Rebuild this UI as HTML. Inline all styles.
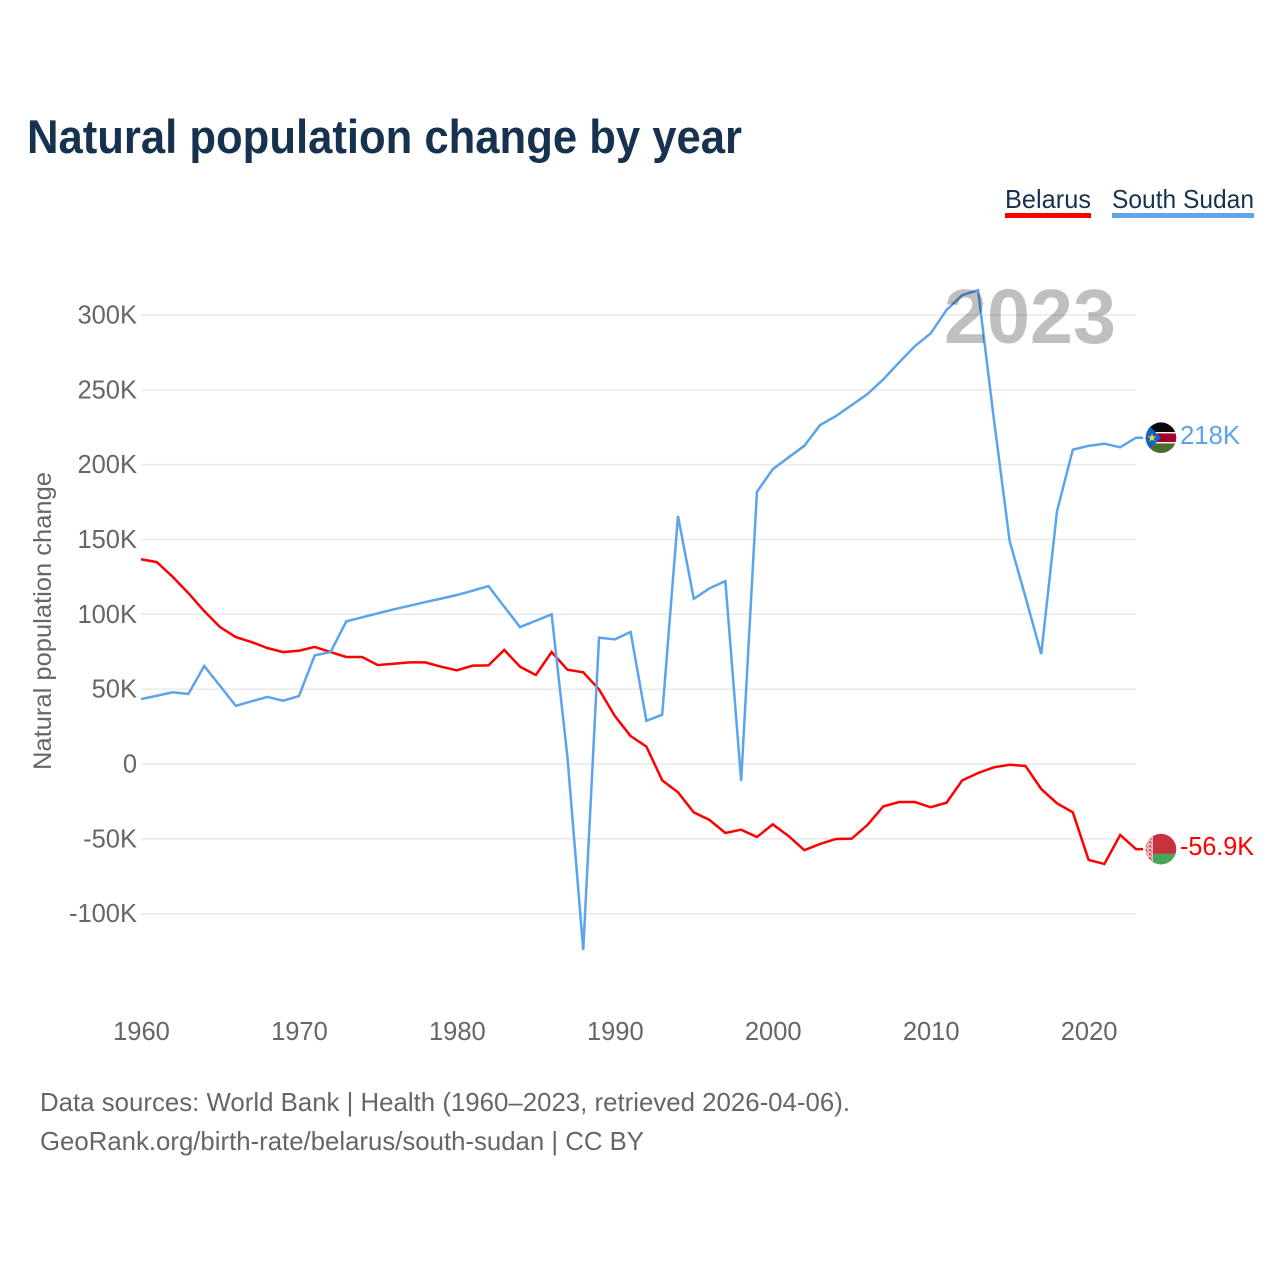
<!DOCTYPE html>
<html lang="en">
<head>
<meta charset="utf-8">
<title>Natural population change by year</title>
<style>
  html, body { margin: 0; padding: 0; background: #fff; }
  svg { display: block; font-family: "Liberation Sans", sans-serif; }
  .tick { font-size: 25.5px; fill: #666; }
</style>
</head>
<body>
<svg id="chart" xmlns="http://www.w3.org/2000/svg" width="1280" height="1280" viewBox="0 0 1280 1280">
  <defs>
    <clipPath id="flag-clip"><circle cx="0" cy="0" r="15.3"></circle></clipPath>
    <pattern id="hoist-pattern" width="4" height="4" patternUnits="userSpaceOnUse">
      <rect width="4" height="4" fill="#eebcc1"></rect>
      <rect x="0" y="0" width="2" height="2" fill="#c8313e" opacity="0.85"></rect>
      <rect x="2" y="2" width="1" height="1" fill="#c8313e" opacity="0.7"></rect>
    </pattern>
  </defs>
  <rect width="1280" height="1280" fill="#fff"></rect>

  <text x="27" y="153" font-size="47" font-weight="700" fill="#17324f" textLength="715" lengthAdjust="spacingAndGlyphs">Natural population change by year</text>

  <g>
    <g>
      <text x="1005" y="208" font-size="26" fill="#17324f" textLength="86" lengthAdjust="spacingAndGlyphs">Belarus</text>
      <rect x="1005" y="213" width="86" height="5" fill="#ff0000"></rect>
    </g>
    <g>
      <text x="1112" y="208" font-size="26" fill="#17324f" textLength="142" lengthAdjust="spacingAndGlyphs">South Sudan</text>
      <rect x="1112" y="213" width="142" height="5" fill="#62a6ea"></rect>
    </g>
  </g>

  <g id="grid"></g>
  <g id="y-ticks"></g>
  <g id="x-ticks"></g>
  <text transform="translate(51,621) rotate(-90)" text-anchor="middle" font-size="25" fill="#666" textLength="298" lengthAdjust="spacingAndGlyphs">Natural population change</text>
  <g id="series"></g>

  <text x="1030" y="343" text-anchor="middle" font-size="77" font-weight="700" fill="#000" fill-opacity="0.25" textLength="172" lengthAdjust="spacingAndGlyphs">2023</text>

  <g id="flag-south-sudan">
    <g clip-path="url(#flag-clip)">
      <rect x="-16" y="-16" width="32" height="32" fill="#fff"></rect>
      <rect x="-16" y="-16" width="32" height="10.3" fill="#0a0a0a"></rect>
      <rect x="-16" y="-4.3" width="32" height="8.6" fill="#a6002c"></rect>
      <rect x="-16" y="5.7" width="32" height="10.3" fill="#4a6f2c"></rect>
      <polygon points="-16,-16 0,0 -16,16" fill="#1366bd"></polygon>
      <polygon points="-9,-4 -7.8,-1.2 -4.8,-1.2 -7.2,0.7 -6.4,3.6 -9,2 -11.6,3.6 -10.8,0.7 -13.2,-1.2 -10.2,-1.2" fill="#f6d33c"></polygon>
    </g>
  </g>
  <g id="flag-belarus">
    <g clip-path="url(#flag-clip)">
      <rect x="-16" y="-16" width="32" height="21" fill="#c8313e"></rect>
      <rect x="-16" y="4.5" width="32" height="12" fill="#4aa657"></rect>
      <rect x="-16" y="-16" width="8" height="32" fill="url(#hoist-pattern)"></rect>
    </g>
  </g>

  <g id="end-labels"></g>

  <text x="40" y="1111" font-size="26" fill="#666" textLength="810" lengthAdjust="spacingAndGlyphs">Data sources: World Bank | Health (1960–2023, retrieved 2026-04-06).</text>
  <text x="40" y="1150" font-size="26" fill="#666" textLength="604" lengthAdjust="spacingAndGlyphs">GeoRank.org/birth-rate/belarus/south-sudan | CC BY</text>
</svg>

<script>
// Chart data (population change, thousands)
const years = [1960,1961,1962,1963,1964,1965,1966,1967,1968,1969,1970,1971,1972,1973,1974,1975,1976,1977,1978,1979,1980,1981,1982,1983,1984,1985,1986,1987,1988,1989,1990,1991,1992,1993,1994,1995,1996,1997,1998,1999,2000,2001,2002,2003,2004,2005,2006,2007,2008,2009,2010,2011,2012,2013,2014,2015,2016,2017,2018,2019,2020,2021,2022,2023];
const belarusValues = [136.8,134.9,125.1,114.2,102.2,91.5,84.8,81.5,77.5,74.8,75.7,78.2,74.8,71.5,71.5,66.1,67.0,67.9,67.9,65.0,62.6,65.7,65.9,76.2,65.0,59.5,74.8,63.0,61.3,49.9,32.1,18.7,11.6,-10.9,-18.9,-32.3,-37.4,-46.1,-43.9,-48.8,-40.3,-48.1,-57.6,-53.4,-50.1,-49.9,-40.7,-28.3,-25.4,-25.4,-28.9,-25.9,-10.9,-6.0,-2.2,-0.5,-1.3,-16.7,-26.3,-32.3,-64.1,-66.8,-47.4,-56.9];
const southSudanValues = [43.4,45.6,47.9,46.8,65.5,52.3,38.9,41.9,44.8,42.3,45.4,72.6,74.8,95.3,98.0,100.7,103.3,105.7,108.2,110.5,112.9,115.8,118.9,105.1,91.5,95.7,100.0,4.7,-124.2,84.4,83.3,88.2,28.9,32.9,165.7,110.4,117.4,122.2,-11.4,181.9,196.9,204.9,212.6,226.5,232.5,239.8,247.2,257.0,268.3,279.2,287.7,303.3,313.3,316.6,230.5,149.0,111.6,73.5,169.0,210.0,212.6,214.0,211.6,218.0];
const yTickValues = [300,250,200,150,100,50,0,-50,-100];
const yTickLabels = ["300K","250K","200K","150K","100K","50K","0","-50K","-100K"];
const xTickValues = [1960,1970,1980,1990,2000,2010,2020];
const xTickLabels = ["1960","1970","1980","1990","2000","2010","2020"];
const belarusEndLabel = "-56.9K";
const southSudanEndLabel = "218K";

const SVG_NS = "http://www.w3.org/2000/svg";
const plotLeft = 141, plotRight = 1136, zeroY = 764, pxPerK = 449 / 300;

function xScale(year) {
  return plotLeft + (year - years[0]) * (plotRight - plotLeft) / (years[years.length - 1] - years[0]);
}
function yScale(value) {
  return zeroY - value * pxPerK;
}
function make(tag, attrs, text) {
  const el = document.createElementNS(SVG_NS, tag);
  for (const key in attrs) el.setAttribute(key, attrs[key]);
  if (text !== undefined) el.textContent = text;
  return el;
}

const gridGroup = document.getElementById("grid");
const yTickGroup = document.getElementById("y-ticks");
const xTickGroup = document.getElementById("x-ticks");
const seriesGroup = document.getElementById("series");
const endLabelGroup = document.getElementById("end-labels");

yTickValues.forEach(function (value, i) {
  const line = make("line", { x1: plotLeft, x2: plotRight, y1: yScale(value), y2: yScale(value), stroke: "#e9e9e9", "stroke-width": 1.5 });
  
  
  gridGroup.appendChild(line);

  const label = make("text", { x: 137, y: yScale(value) + 8.5, "text-anchor": "end", class: "tick" }, yTickLabels[i]);
  
  
  yTickGroup.appendChild(label);
});

xTickValues.forEach(function (year, i) {
  const label = make("text", { x: xScale(year) + 0.5, y: 1040, "text-anchor": "middle", class: "tick" }, xTickLabels[i]);
  
  
  xTickGroup.appendChild(label);
});

function linePoints(values) {
  return values.map(function (value, i) {
    return xScale(years[i]).toFixed(2) + "," + yScale(value).toFixed(2);
  }).join(" ") + " " + (xScale(years[values.length - 1]) + 7).toFixed(2) + "," + yScale(values[values.length - 1]).toFixed(2);
}

const belarusLine = make("polyline", { points: linePoints(belarusValues), fill: "none", stroke: "#ff0000", "stroke-width": 2.5 });



const southSudanLine = make("polyline", { points: linePoints(southSudanValues), fill: "none", stroke: "#5ba4ec", "stroke-width": 2.5 });



seriesGroup.appendChild(belarusLine);
seriesGroup.appendChild(southSudanLine);

const lastBelarus = belarusValues[belarusValues.length - 1];
const lastSouthSudan = southSudanValues[southSudanValues.length - 1];
document.getElementById("flag-belarus").setAttribute("transform", "translate(" + (plotRight + 25) + "," + yScale(lastBelarus) + ")");
document.getElementById("flag-south-sudan").setAttribute("transform", "translate(" + (plotRight + 25) + "," + yScale(lastSouthSudan) + ")");

const belarusLabel = make("text", { x: 1180, y: yScale(lastBelarus) + 6, "font-size": 26, fill: "#ff0000", textLength: 74, lengthAdjust: "spacingAndGlyphs" }, belarusEndLabel);


endLabelGroup.appendChild(belarusLabel);

const southSudanLabel = make("text", { x: 1180, y: yScale(lastSouthSudan) + 6.5, "font-size": 26, fill: "#5ba4ec", textLength: 60, lengthAdjust: "spacingAndGlyphs" }, southSudanEndLabel);


endLabelGroup.appendChild(southSudanLabel);
</script>
</body>
</html>
